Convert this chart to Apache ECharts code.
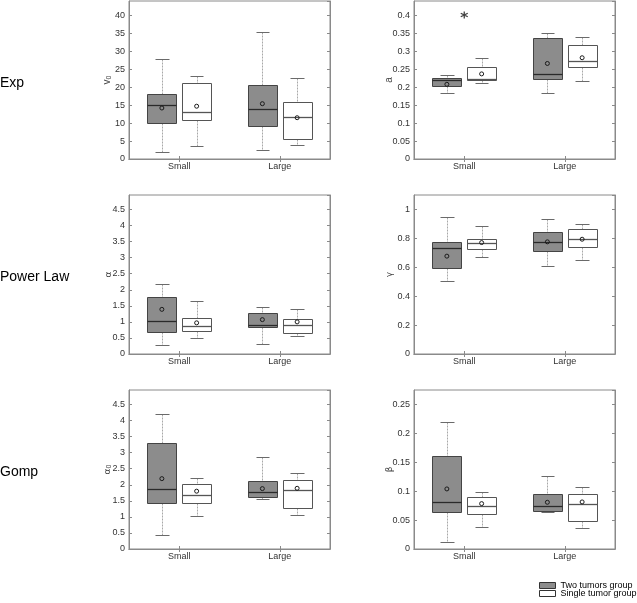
<!DOCTYPE html>
<html><head><meta charset="utf-8">
<script src="https://cdn.jsdelivr.net/npm/echarts@6/dist/echarts.min.js"></script>
<style>html,body{margin:0;padding:0;background:#fff}#c{width:637px;height:603px}</style>
</head><body><div id="c"></div>
<script>
// ---------- data ----------
const categories = ['Small', 'Large'];
const groupNames = ['Two tumors group', 'Single tumor group'];
const rowLabels = ['Exp', 'Power Law', 'Gomp'];
// stats per category: [min, Q1, median, Q3, max, mean]
const v0Two = [[1.9, 9.9, 14.9, 18.0, 27.9, 14.2], [2.4, 9.2, 14.0, 20.5, 35.5, 15.4]];
const v0Single = [[3.6, 11.0, 13.2, 21.1, 23.2, 14.7], [3.9, 5.45, 11.8, 16.0, 22.5, 11.5]];
const aTwo = [[0.184, 0.203, 0.219, 0.226, 0.233, 0.208], [0.184, 0.223, 0.237, 0.338, 0.352, 0.266]];
const aSingle = [[0.213, 0.219, 0.224, 0.257, 0.282, 0.237], [0.218, 0.256, 0.2725, 0.318, 0.339, 0.282]];
const aOutliers = [['Small', 0.401]];
const alphaTwo = [[0.28, 0.69, 1.04, 1.78, 2.18, 1.39], [0.31, 0.84, 0.89, 1.27, 1.455, 1.07]];
const alphaSingle = [[0.51, 0.73, 0.87, 1.13, 1.66, 0.97], [0.56, 0.665, 0.90, 1.10, 1.41, 1.0]];
const gammaTwo = [[0.508, 0.598, 0.734, 0.776, 0.949, 0.677], [0.612, 0.711, 0.776, 0.843, 0.935, 0.776]];
const gammaSingle = [[0.674, 0.723, 0.769, 0.799, 0.885, 0.771], [0.649, 0.741, 0.797, 0.866, 0.896, 0.794]];
const alpha0Two = [[0.447, 1.445, 1.86, 3.305, 4.19, 2.19], [1.56, 1.61, 1.78, 2.12, 2.87, 1.88]];
const alpha0Single = [[1.04, 1.445, 1.69, 2.03, 2.21, 1.80], [1.05, 1.29, 1.84, 2.15, 2.38, 1.89]];
const betaTwo = [[0.0121, 0.0641, 0.082, 0.1617, 0.2188, 0.1039], [0.0647, 0.0652, 0.0751, 0.0953, 0.1264, 0.0808]];
const betaSingle = [[0.0387, 0.0612, 0.0739, 0.0895, 0.0987, 0.0785], [0.037, 0.0479, 0.0785, 0.0953, 0.108, 0.0814]];

// axis settings per panel (row-major: left, right)
const yMaxes = [44, 0.44, 4.95, 1.1, 4.95, 0.275];
const yIntervals = [5, 0.05, 0.5, 0.2, 0.5, 0.05];
const yNames = ['{i|v}{s|0}', '{i|a}', '{g|α}', '{g|γ}', '{g|α}{s|0}', '{g|β}'];
const panelData = [[v0Two, v0Single], [aTwo, aSingle], [alphaTwo, alphaSingle],
                   [gammaTwo, gammaSingle], [alpha0Two, alpha0Single], [betaTwo, betaSingle]];

// ---------- layout / style ----------
const FONT = 'Liberation Sans, Arial, sans-serif';
const gridLefts = [129, 414];
const gridTops = [1, 195, 390];
const gridHeights = [158, 159, 159];
const fills = ['#8c8c8c', '#ffffff'];
const borders = ['#444444', '#555555'];
const medianColors = ['#2a2a2a', '#555555'];
const frame = '#8a8a8a';

const grids = [], xAxes = [], yAxes = [], series = [];
for (let k = 0; k < 6; k++) {
  const row = Math.floor(k / 2), col = k % 2;
  grids.push({left: gridLefts[col], top: gridTops[row], width: 201, height: gridHeights[row],
              show: true, borderColor: frame, borderWidth: 1, outerBoundsMode: 'none', containLabel: false});
  const tick = {show: true, inside: true, length: 3, lineStyle: {color: frame}};
  xAxes.push({type: 'category', gridIndex: k, data: categories, boundaryGap: true,
              axisLine: {show: true, lineStyle: {color: frame}},
              axisTick: Object.assign({alignWithLabel: true}, tick),
              axisLabel: {fontSize: 9, color: '#333', margin: 3, fontFamily: FONT},
              splitLine: {show: false}});
  xAxes.push({type: 'category', gridIndex: k, position: 'top', data: categories, boundaryGap: true,
              axisLine: {show: true, lineStyle: {color: frame}},
              axisTick: Object.assign({alignWithLabel: true}, tick),
              axisLabel: {show: false}, splitLine: {show: false}});
  yAxes.push({type: 'value', gridIndex: k, min: 0, max: yMaxes[k], interval: yIntervals[k],
              axisLine: {show: true, lineStyle: {color: frame}},
              axisTick: tick,
              axisLabel: {fontSize: 9, color: '#333', margin: 4, fontFamily: FONT, showMaxLabel: false},
              splitLine: {show: false},
              name: yNames[k], nameLocation: 'middle', nameGap: col === 0 ? 16 : 20,
              nameMoveOverlap: false,
              nameTextStyle: {color: '#444', fontSize: 10, fontFamily: FONT,
                rich: {i: {fontSize: 10, fontFamily: FONT, color: '#444'},
                       g: {fontSize: 9, fontFamily: 'DejaVu Sans', color: '#444'},
                       s: {fontSize: 7, fontFamily: FONT, color: '#444', verticalAlign: 'bottom', padding: [4, 0, 0, 0]}}}});
  yAxes.push({type: 'value', gridIndex: k, position: 'right', min: 0, max: yMaxes[k], interval: yIntervals[k],
              axisLine: {show: true, lineStyle: {color: frame}}, axisTick: tick,
              axisLabel: {show: false}, splitLine: {show: false}});

  for (let gi = 0; gi < 2; gi++) {
    series.push(makeBox(panelData[k][gi], k, gi));
  }
}

function makeBox(stats, k, gi) {
  return {
    type: 'custom', name: groupNames[gi], xAxisIndex: 2 * k, yAxisIndex: 2 * k,
    itemStyle: {color: fills[gi], borderColor: borders[gi], borderWidth: 1},
    encode: {x: 0, y: [1, 2, 3, 4, 5, 6]},
    data: stats.map((s, i) => [i].concat(s)),
    silent: true,
    renderItem: function (params, api) {
      const ci = api.value(0);
      const band = api.size([1, 0])[0];
      const c = api.coord([ci, 0])[0] + (gi === 0 ? -1 : 1) * 0.173 * band;
      const w = 0.287 * band, cw = 0.135 * band;
      const Y = d => api.coord([ci, api.value(d)])[1];
      const r = v => Math.round(v) + 0.5;
      const yMin = r(Y(1)), q1 = r(Y(2)), med = r(Y(3)), q3 = r(Y(4)), yMax = r(Y(5)), mean = Y(6);
      const cx = r(c), x0 = r(c - w / 2), x1 = r(c + w / 2);
      const dotted = {stroke: '#a8a8a8', lineWidth: 1, lineDash: [2, 1]};
      const cap = {stroke: '#6a6a6a', lineWidth: 1};
      return {type: 'group', children: [
        {type: 'line', shape: {x1: cx, y1: yMax, x2: cx, y2: q3}, style: dotted},
        {type: 'line', shape: {x1: cx, y1: q1, x2: cx, y2: yMin}, style: dotted},
        {type: 'line', shape: {x1: r(c - cw / 2), y1: yMax, x2: r(c + cw / 2), y2: yMax}, style: cap},
        {type: 'line', shape: {x1: r(c - cw / 2), y1: yMin, x2: r(c + cw / 2), y2: yMin}, style: cap},
        {type: 'rect', shape: {x: x0, y: q3, width: x1 - x0, height: q1 - q3},
         style: {fill: fills[gi], stroke: borders[gi], lineWidth: 1}},
        {type: 'line', shape: {x1: x0, y1: med, x2: x1, y2: med},
         style: {stroke: medianColors[gi], lineWidth: 1.3}},
        {type: 'circle', shape: {cx: c, cy: mean, r: 2},
         style: {fill: 'none', stroke: '#1a1a1a', lineWidth: 1}}
      ]};
    }
  };
}

series.push({
  type: 'scatter', name: 'outlier', xAxisIndex: 2, yAxisIndex: 2, data: aOutliers,
  symbol: 'path://M5 0L5 10M0.7 2.5L9.3 7.5M9.3 2.5L0.7 7.5',
  symbolSize: 7, silent: true,
  itemStyle: {color: 'transparent', borderColor: '#111', borderWidth: 1.3}
});

const rowCenters = [83, 277, 472];
const graphics = rowLabels.map((t, i) => ({
  type: 'text', x: 0, y: rowCenters[i],
  style: {text: t, fontSize: 14, fontFamily: FONT, fill: '#000', verticalAlign: 'middle'}
}));

const chart = echarts.init(document.getElementById('c'), null, {renderer: 'canvas'});
chart.setOption({
  animation: false,
  backgroundColor: '#fff',
  grid: grids, xAxis: xAxes, yAxis: yAxes, series: series,
  graphic: graphics,
  legend: {
    orient: 'vertical', left: 539, top: 581, itemWidth: 16, itemHeight: 6, itemGap: -1, padding: 0,
    icon: 'rect', selectedMode: false,
    textStyle: {fontSize: 9, lineHeight: 8, color: '#000', fontFamily: FONT},
    data: [
      {name: groupNames[0], itemStyle: {color: fills[0], borderColor: '#333', borderWidth: 1}},
      {name: groupNames[1], itemStyle: {color: fills[1], borderColor: '#333', borderWidth: 1}}
    ]
  }
});
</script></body></html>
